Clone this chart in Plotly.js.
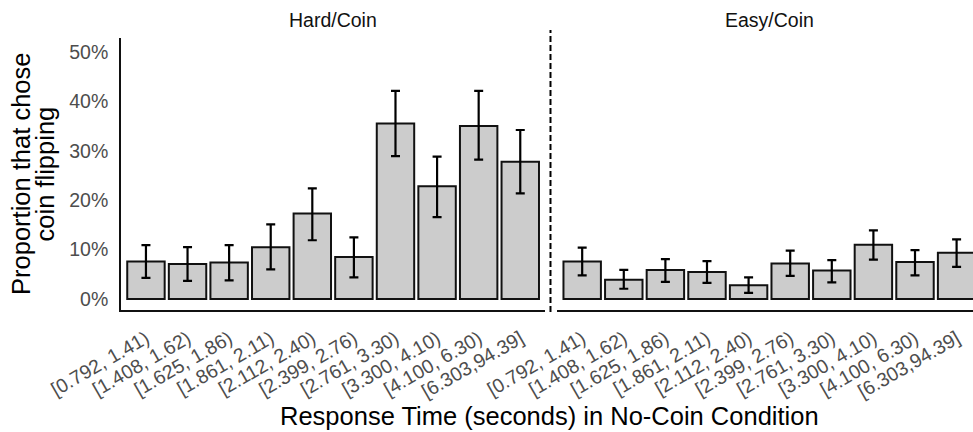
<!DOCTYPE html>
<html>
<head>
<meta charset="utf-8">
<script src="https://cdn.plot.ly/plotly-3.0.1.min.js"></script>
<style>
  html, body { margin: 0; padding: 0; background: #ffffff; }
  #chart { width: 973px; height: 432px; }
</style>
</head>
<body>
<div id="chart"></div>
<script>
// Response-time bins (seconds) in the No-Coin condition
const categories = [
  '[0.792, 1.41)', '[1.408, 1.62)', '[1.625, 1.86)', '[1.861, 2.11)', '[2.112, 2.40)',
  '[2.399, 2.76)', '[2.761, 3.30)', '[3.300, 4.10)', '[4.100, 6.30)', '[6.303,94.39]'
];

// Proportion (%) that chose coin flipping, with interval bounds
const hardProp = [7.6, 7.1, 7.4, 10.5, 17.3, 8.5, 35.5, 22.8, 35.0, 27.8];
const hardLow  = [4.3, 3.7, 3.8, 6.0, 11.9, 4.4, 28.9, 16.6, 28.2, 21.4];
const hardHigh = [10.9, 10.5, 10.9, 15.1, 22.4, 12.5, 42.1, 28.8, 42.1, 34.2];

const easyProp = [7.6, 3.9, 5.9, 5.5, 2.8, 7.2, 5.8, 11.0, 7.5, 9.4];
const easyLow  = [4.8, 2.1, 3.5, 3.3, 1.25, 4.7, 3.4, 8.0, 4.8, 6.5];
const easyHigh = [10.4, 5.9, 8.1, 7.7, 4.4, 9.8, 7.9, 13.9, 9.9, 12.1];

const yTickVals = [0, 10, 20, 30, 40, 50];
const yTickText = ['0%', '10%', '20%', '30%', '40%', '50%'];

const panelTitles = ['Hard/Coin', 'Easy/Coin'];
const xTitle = 'Response Time (seconds) in No-Coin Condition';
const yTitleLines = ['Proportion that chose', 'coin flipping'];

const FONT = 'Liberation Sans, Arial, Helvetica, sans-serif';
const INK = '#111111';

function barTrace(prop, low, high, xa, ya) {
  return {
    type: 'bar',
    x: categories,
    y: prop,
    xaxis: xa,
    yaxis: ya,
    width: 0.9,
    marker: { color: '#cccccc', line: { color: INK, width: 2 } },
    error_y: {
      type: 'data',
      symmetric: false,
      array: high.map((h, i) => h - prop[i]),
      arrayminus: low.map((l, i) => prop[i] - l),
      color: '#000000',
      thickness: 2.2,
      width: 4.5
    },
    hoverinfo: 'x+y'
  };
}

const data = [
  barTrace(hardProp, hardLow, hardHigh, 'x', 'y'),
  barTrace(easyProp, easyLow, easyHigh, 'x2', 'y2')
];

const xCommon = {
  type: 'category',
  tickmode: 'array',
  tickvals: categories,
  ticktext: categories,
  tickangle: -30,
  tickfont: { family: FONT, size: 19.5, color: '#4d4d4d' },
  ticks: '',
  ticklabelstandoff: 8,
  showline: true,
  linecolor: INK,
  linewidth: 1.8,
  showgrid: false,
  zeroline: false,
  fixedrange: true
};

const layout = {
  width: 973,
  height: 432,
  margin: { l: 121, r: 0, t: 38, b: 122 },
  paper_bgcolor: '#ffffff',
  plot_bgcolor: '#ffffff',
  showlegend: false,
  bargap: 0.1,
  font: { family: FONT, color: INK },
  xaxis: Object.assign({}, xCommon, { domain: [0, 0.4979], range: [-0.6, 9.6], anchor: 'y' }),
  xaxis2: Object.assign({}, xCommon, { domain: [0.512, 1], range: [-0.6, 9.394], anchor: 'y2' }),
  yaxis: {
    range: [-2.2, 52.8],
    tickmode: 'array',
    tickvals: yTickVals,
    ticktext: yTickText,
    tickfont: { family: FONT, size: 19.5, color: '#4d4d4d' },
    ticks: '',
    ticklabelstandoff: 7,
    showline: true,
    linecolor: INK,
    linewidth: 1.8,
    showgrid: false,
    zeroline: false,
    fixedrange: true
  },
  yaxis2: {
    matches: 'y',
    anchor: 'x2',
    showticklabels: false,
    showline: false,
    showgrid: false,
    zeroline: false,
    ticks: '',
    fixedrange: true
  },
  shapes: [{
    type: 'line',
    xref: 'paper', yref: 'paper',
    x0: 0.5041, x1: 0.5041,
    y0: -0.007, y1: 1.029,
    line: { color: '#000000', width: 2, dash: '6px,3px' }
  }],
  annotations: [
    {
      text: panelTitles[0], xref: 'paper', yref: 'paper',
      x: 0.2488, y: 1.066, xanchor: 'center', yanchor: 'middle',
      showarrow: false, font: { family: FONT, size: 19.5, color: INK }
    },
    {
      text: panelTitles[1], xref: 'paper', yref: 'paper',
      x: 0.7606, y: 1.066, xanchor: 'center', yanchor: 'middle',
      showarrow: false, font: { family: FONT, size: 19.5, color: INK }
    },
    {
      text: xTitle, xref: 'paper', yref: 'paper',
      x: 0.5035, y: -0.3897, xanchor: 'center', yanchor: 'middle',
      showarrow: false, font: { family: FONT, size: 25.5, color: '#000000' }
    },
    {
      text: yTitleLines[0], xref: 'paper', yref: 'paper',
      x: -0.1174, y: 0.5, xanchor: 'center', yanchor: 'middle', textangle: -90,
      showarrow: false, font: { family: FONT, size: 25.5, color: '#000000' }
    },
    {
      text: yTitleLines[1], xref: 'paper', yref: 'paper',
      x: -0.0887, y: 0.5, xanchor: 'center', yanchor: 'middle', textangle: -90,
      showarrow: false, font: { family: FONT, size: 25.5, color: '#000000' }
    }
  ]
};

Plotly.newPlot('chart', data, layout, { displayModeBar: false, staticPlot: true });
</script>
</body>
</html>
